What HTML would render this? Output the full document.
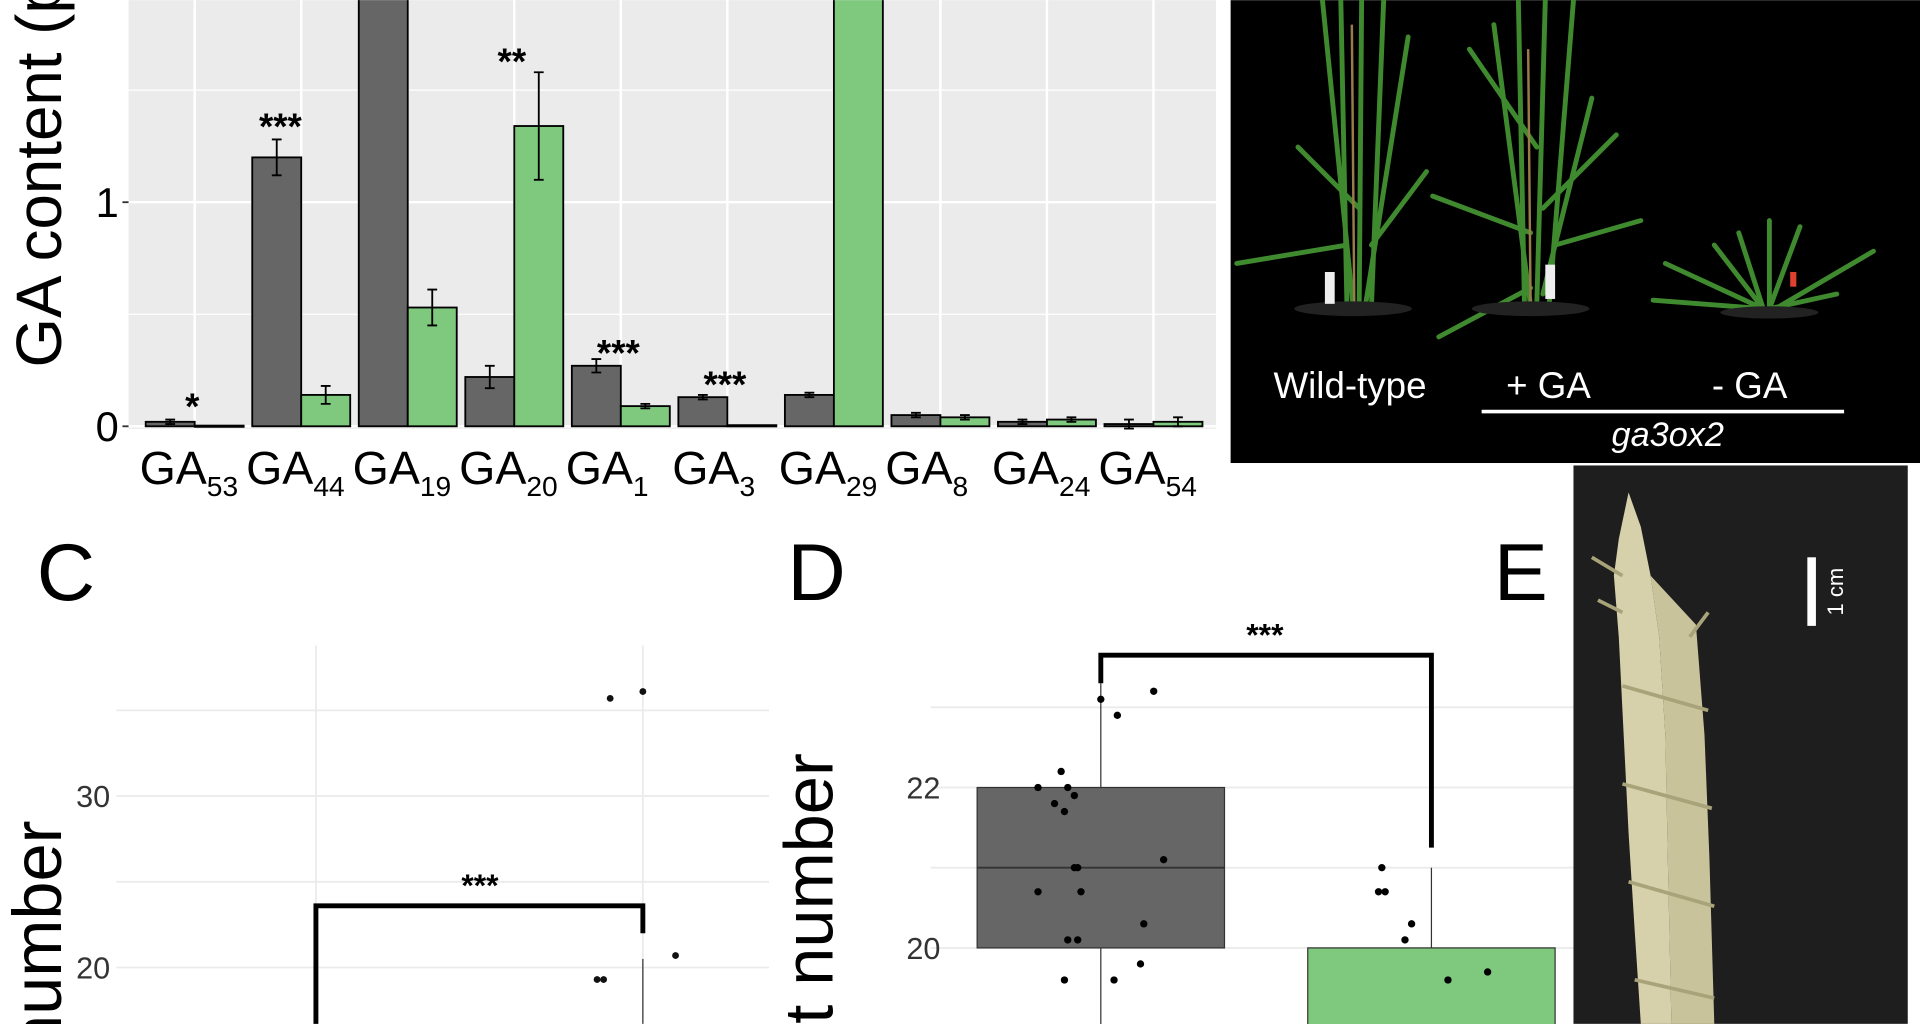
<!DOCTYPE html>
<html><head><meta charset="utf-8"><style>
html,body{margin:0;padding:0;background:#fff;width:1920px;height:1024px;overflow:hidden}
svg{display:block;font-family:"Liberation Sans",sans-serif;overflow:hidden}
</style></head><body>
<svg id="fig" width="1920" height="1024" viewBox="0 0 1568 836" xmlns="http://www.w3.org/2000/svg">
<defs><clipPath id="clipA"><rect x="105" y="0" width="888" height="352"/></clipPath></defs>
<g id="panelA">
  <rect x="105" y="0" width="888" height="350" fill="#ebebeb"/>
  <g id="gridA"></g>
  <g id="barsA" clip-path="url(#clipA)"></g>
  <g id="axisA"></g>
  <text transform="translate(50,300) rotate(-90)" font-size="52">GA content (pg FW)</text>
</g>
<g id="panelB">
  <rect x="1005" y="0" width="563" height="378" fill="#000"/>
  <g stroke="#3f8a2e" stroke-width="4" fill="none" stroke-linecap="round">
    <path d="M1100 250 L1095 0 M1110 250 L1112 0 M1120 250 L1130 0 M1105 250 L1080 0 M1115 250 L1150 30 M1100 200 L1010 215 M1110 170 L1060 120 M1120 200 L1165 140"/>
    <path d="M1245 250 L1240 0 M1255 250 L1262 0 M1265 250 L1285 0 M1250 250 L1220 20 M1260 240 L1300 80 M1250 190 L1170 160 M1260 170 L1320 110 M1255 120 L1200 40 M1270 200 L1340 180 M1250 235 L1175 275"/>
    <path d="M1440 252 L1400 200 M1440 252 L1360 215 M1445 252 L1470 185 M1450 252 L1530 205 M1445 252 L1500 240 M1440 252 L1350 245 M1445 252 L1445 180 M1440 252 L1420 190"/>
  </g>
  <g stroke="#9a7b4a" stroke-width="2"><line x1="1106" y1="250" x2="1104" y2="20"/><line x1="1250" y1="250" x2="1248" y2="40"/></g>
  <ellipse cx="1105" cy="252" rx="48" ry="6" fill="#222"/><ellipse cx="1250" cy="252" rx="48" ry="6" fill="#222"/><ellipse cx="1445" cy="255" rx="40" ry="5" fill="#222"/>
  <rect x="1082" y="222" width="8" height="26" fill="#eee"/><rect x="1262" y="216" width="8" height="28" fill="#eee"/><rect x="1462" y="222" width="5" height="12" fill="#e04030"/>
  <text x="1040" y="325" font-size="30" fill="#fff">Wild-type</text>
  <text x="1230" y="325" font-size="30" fill="#fff">+ GA</text>
  <text x="1398" y="325" font-size="30" fill="#fff">- GA</text>
  <line x1="1210" y1="336" x2="1506" y2="336" stroke="#fff" stroke-width="3"/>
  <text x="1362" y="364" font-size="28" fill="#fff" font-style="italic" text-anchor="middle">ga3ox2</text>
</g>
<g id="panelC">
  <text x="30" y="490" font-size="66">C</text>
  <g id="gridC"></g><g id="marksC"></g>
  <text transform="translate(50,670) rotate(-90)" font-size="56" text-anchor="end">Spikelet number</text>
</g>
<g id="panelD">
  <text x="643" y="490" font-size="66">D</text>
  <g id="gridD"></g><g id="marksD"></g>
  <text transform="translate(680,615) rotate(-90)" font-size="56" text-anchor="end">Fertile spikelet number</text>
</g>
<g id="panelE">
  <text x="1220" y="490" font-size="66">E</text>
  <rect x="1285" y="380" width="273" height="456" fill="#1e1e1e"/>
  <path d="M1330 402 L1340 430 L1348 470 L1355 520 L1360 600 L1362 700 L1365 836 L1340 836 L1335 760 L1330 680 L1326 600 L1322 520 L1318 470 L1322 440 Z" fill="#d6d0ab"/>
  <path d="M1348 470 L1385 510 L1392 600 L1396 700 L1400 836 L1365 836 L1362 700 L1360 600 L1355 520 Z" fill="#c9c39b"/>
  <path d="M1300 455 L1325 470 M1305 490 L1325 500 M1380 520 L1395 500 M1325 560 L1395 580 M1325 640 L1398 660 M1330 720 L1400 740 M1335 800 L1400 815" stroke="#a9a37a" stroke-width="3" fill="none"/>
  <rect x="1476" y="455" width="7" height="56" fill="#fff"/>
  <text transform="translate(1505,483) rotate(-90)" font-size="18" fill="#fff" text-anchor="middle">1 cm</text>
</g>
</svg>
<script>
const NS="http://www.w3.org/2000/svg";
// Panel A data
const categoriesA=["53","44","19","20","1","3","29","8","24","54"];
const wildTypeA=[0.02,1.20,2.6,0.22,0.27,0.13,0.14,0.05,0.02,0.01];
const wildTypeErrA=[0.01,0.08,0,0.05,0.03,0.01,0.01,0.01,0.01,0.02];
const mutantA=[0.003,0.14,0.53,1.34,0.09,0.005,2.6,0.04,0.03,0.02];
const mutantErrA=[0,0.04,0.08,0.24,0.01,0,0,0.01,0.01,0.02];
const sigA=["*","***","","**","***","***","","","",""];
const sigPosA=[0.13,1.38,0,1.67,0.37,0.23,0,0,0,0];
const ticksA=[0,1];
// Panel C data
const pointsCx=[1.9,2.0,2.1,1.86,1.88];
const pointsCy=[35.7,36.1,20.7,19.3,19.3];
const ticksC=[20,30];
// Panel D data
const dBoxStats=[[19.0,20,21,22,23.3],[18.5,18.5,19.0,20,21]];
const pointsDgroup=[0,0,0,0,0,0,0,0,0,0,0,0,0,0,0,0,0,0,0,0,1,1,1,1,1,1,1,1,1,1];
const pointsDjit=[0,0.16,0.05,-0.12,-0.19,-0.1,-0.08,-0.14,-0.11,0.19,-0.08,-0.07,-0.19,-0.06,0.13,-0.1,-0.07,-0.11,0.12,0.04,-0.15,-0.16,-0.14,-0.06,-0.08,0.17,0.05,-0.13,-0.02,0.16];
const pointsDval=[23.1,23.2,22.9,22.2,22.0,22.0,21.9,21.8,21.7,21.1,21.0,21.0,20.7,20.7,20.3,20.1,20.1,19.6,19.8,19.6,21.0,20.7,20.7,20.3,20.1,19.7,19.6,19.0,19.0,19.0];
const ticksD=[20,22];

function el(tag,attrs,parent){const e=document.createElementNS(NS,tag);for(const k in attrs)e.setAttribute(k,attrs[k]);parent.appendChild(e);return e;}
// A axes
const yA=v=>348-v*183, xA=i=>159+i*87;
const gA=document.getElementById('gridA'),bA=document.getElementById('barsA'),aA=document.getElementById('axisA');
[0.5,1.5].forEach(v=>{const l=el('line',{x1:105,x2:993,y1:yA(v),y2:yA(v),stroke:'#fff','stroke-width':1},gA);

});
ticksA.forEach(v=>{const l=el('line',{x1:105,x2:993,y1:yA(v),y2:yA(v),stroke:'#fff','stroke-width':2},gA);


el('line',{x1:100,x2:105,y1:yA(v),y2:yA(v),stroke:'#333','stroke-width':1.5},aA);
const t=el('text',{x:97,y:yA(v)+12,'font-size':34,'text-anchor':'end'},aA);t.textContent=v;

});
categoriesA.forEach((c,i)=>{
 const cx=xA(i);
 el('line',{x1:cx,x2:cx,y1:0,y2:350,stroke:'#fff','stroke-width':2},gA);
 const dk=el('rect',{x:cx-40,y:yA(wildTypeA[i]),width:40,height:Math.max(yA(0)-yA(wildTypeA[i]),1),fill:'#666',stroke:'#000','stroke-width':1.5},bA);
 
 
 const gr=el('rect',{x:cx,y:yA(mutantA[i]),width:40,height:Math.max(yA(0)-yA(mutantA[i]),1),fill:'#7fc97f',stroke:'#000','stroke-width':1.5},bA);
 
 
 [[cx-20,wildTypeA[i],wildTypeErrA[i]],[cx+20,mutantA[i],mutantErrA[i]]].forEach(([x,v,e])=>{if(e>0){
  const g=el('path',{d:`M${x-4} ${yA(v+e)}H${x+4}M${x} ${yA(v+e)}V${yA(v-e)}M${x-4} ${yA(v-e)}H${x+4}`,stroke:'#000','stroke-width':1.5,fill:'none'},bA);
  
  }});
 if(sigA[i]){const s=el('text',{x:cx-(i===1?17:2),y:yA(sigPosA[i])+18,'font-size':30,'font-weight':'bold','text-anchor':'middle'},aA);s.textContent=sigA[i];
 
 }
 const t=el('text',{x:cx-45,y:395,'font-size':38},aA);t.textContent='GA';
 
 
 const sub=el('tspan',{'font-size':23,dy:10},t);sub.textContent=c;
});
// Panel C
const yC=v=>790-(v-20)*14, xC=g=>258+(g-1)*267;
const gC=document.getElementById('gridC'),mC=document.getElementById('marksC');
[20,25,30,35].forEach(v=>el('line',{x1:95,x2:628,y1:yC(v),y2:yC(v),stroke:'#ebebeb','stroke-width':1.5},gC));
[1,2].forEach(g=>el('line',{x1:xC(g),x2:xC(g),y1:527,y2:836,stroke:'#ebebeb','stroke-width':1.5},gC));
ticksC.forEach(v=>{const t=el('text',{x:90,y:yC(v)+9,'font-size':25,'text-anchor':'end',fill:'#333'},gC);t.textContent=v;

});
el('line',{x1:xC(2),x2:xC(2),y1:yC(20.5),y2:836,stroke:'#333','stroke-width':1},mC);
pointsCy.forEach((v,i)=>{const p=el('circle',{cx:xC(pointsCx[i]),cy:yC(v),r:2.8,fill:'#111'},mC);

});
const brC=el('path',{d:`M${xC(1)} 836V${yC(23.6)}H${xC(2)}V${yC(22)}`,stroke:'#000','stroke-width':4,fill:'none'},mC);


const sC=el('text',{x:392,y:yC(23.6)-8,'font-size':26,'font-weight':'bold','text-anchor':'middle'},mC);sC.textContent='***';
// Panel D
const yD=v=>774-(v-20)*65.5, xD=g=>899+g*270;
const gD=document.getElementById('gridD'),mD=document.getElementById('marksD');
[20,21,22,23].forEach(v=>el('line',{x1:760,x2:1285,y1:yD(v),y2:yD(v),stroke:'#ebebeb','stroke-width':1.5},gD));
ticksD.forEach(v=>{const t=el('text',{x:768,y:yD(v)+9,'font-size':25,'text-anchor':'end',fill:'#333'},gD);t.textContent=v;

});
const fills=['#666','#7fc97f'];
dBoxStats.forEach((s,g)=>{const cx=xD(g);
 el('line',{x1:cx,x2:cx,y1:yD(s[0]),y2:yD(s[4]),stroke:'#333','stroke-width':1},mD);
 const b=el('rect',{x:cx-101,y:yD(s[3]),width:202,height:yD(s[1])-yD(s[3]),fill:fills[g],stroke:'#333','stroke-width':1},mD);
 
 
 el('line',{x1:cx-101,x2:cx+101,y1:yD(s[2]),y2:yD(s[2]),stroke:'#333','stroke-width':1.5},mD);});
pointsDval.forEach((v,i)=>{const p=el('circle',{cx:xD(pointsDgroup[i]+pointsDjit[i]),cy:yD(v),r:3,fill:'#000'},mD);

});
const brD=el('path',{d:`M${xD(0)} ${yD(23.3)}V${yD(23.65)}H${xD(1)}V${yD(21.25)}`,stroke:'#000','stroke-width':4,fill:'none'},mD);


const sD=el('text',{x:1033,y:yD(23.65)-8,'font-size':26,'font-weight':'bold','text-anchor':'middle'},mD);sD.textContent='***';
</script>
</body></html>
